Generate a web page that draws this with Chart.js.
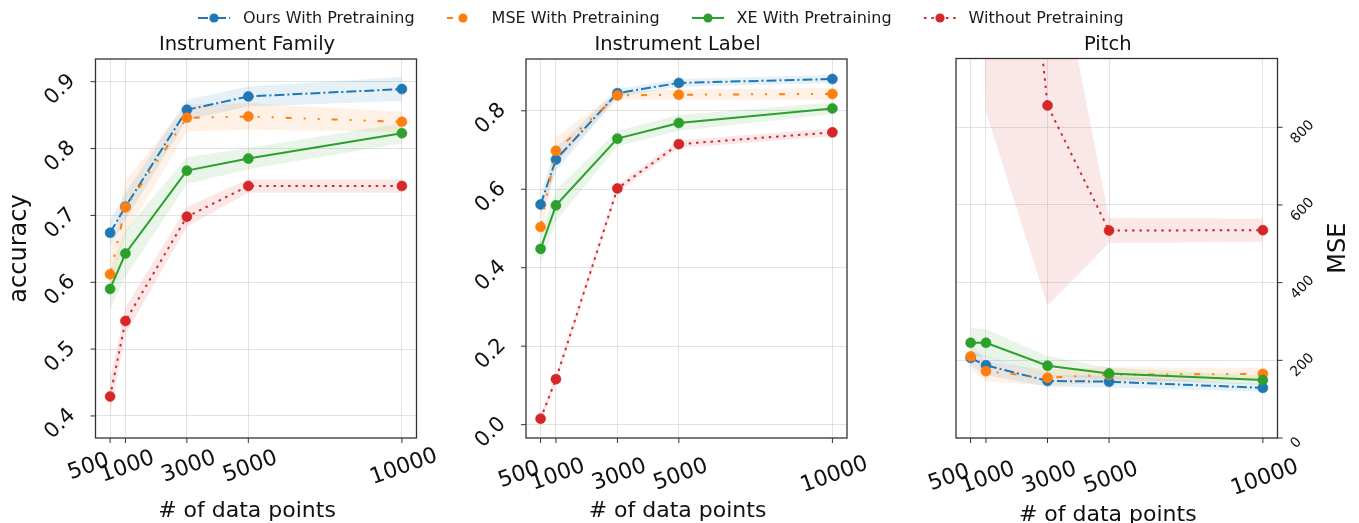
<!DOCTYPE html>
<html>
<head>
<meta charset="utf-8">
<script src="https://cdn.jsdelivr.net/npm/chart.js@4.4.0/dist/chart.umd.min.js"></script>
<style>
  body { margin: 0; background: #fff; width: 1359px; height: 523px; overflow: hidden; position: relative; font-family: "DejaVu Sans", sans-serif; }
  canvas { position: absolute; left: 0; top: 0; }
  #legend { position: absolute; left: 198px; top: 8px; display: flex; gap: 32px; font-size: 16px; line-height: 20px; color: #1a1a1a; z-index: 5; }
  .item { display: flex; align-items: center; gap: 13px; white-space: nowrap; }
  .item svg { display: block; }
</style>
</head>
<body>
<div id="legend"></div>
<canvas id="family" width="1359" height="523"></canvas>
<canvas id="label" width="1359" height="523"></canvas>
<canvas id="pitch" width="1359" height="523"></canvas>
<script>
// number of training data points (x axis)
const dataPoints = [500, 1000, 3000, 5000, 10000];
const xTickLabels = ['500', '1000', '3000', '5000', '10000'];
const seriesNames = ['Ours With Pretraining', 'MSE With Pretraining', 'XE With Pretraining', 'Without Pretraining'];

// Instrument Family accuracy (mean, std)
const familyOurs = [0.674, 0.713, 0.858, 0.878, 0.889];
const familyMse  = [0.612, 0.712, 0.846, 0.848, 0.840];
const familyXe   = [0.590, 0.643, 0.767, 0.785, 0.823];
const familyNone = [0.429, 0.542, 0.698, 0.744, 0.744];
const familyOursStd = [0.020, 0.020, 0.015, 0.015, 0.018];
const familyMseStd  = [0.030, 0.040, 0.020, 0.020, 0.015];
const familyXeStd   = [0.030, 0.035, 0.020, 0.016, 0.015];
const familyNoneStd = [0.025, 0.020, 0.015, 0.010, 0.010];
const familyYTicks = [0.4, 0.5, 0.6, 0.7, 0.8, 0.9];

// Instrument Label accuracy (mean, std)
const labelOurs = [0.561, 0.676, 0.845, 0.871, 0.881];
const labelMse  = [0.504, 0.698, 0.839, 0.841, 0.843];
const labelXe   = [0.448, 0.559, 0.729, 0.769, 0.806];
const labelNone = [0.015, 0.116, 0.602, 0.715, 0.745];
const labelOursStd = [0.030, 0.030, 0.010, 0.010, 0.010];
const labelMseStd  = [0.030, 0.035, 0.010, 0.013, 0.015];
const labelXeStd   = [0.040, 0.040, 0.020, 0.020, 0.015];
const labelNoneStd = [0.010, 0.010, 0.010, 0.010, 0.010];
const labelYTicks = [0.0, 0.2, 0.4, 0.6, 0.8];

// Pitch MSE (mean, std)
const pitchOurs = [206, 187, 147, 145, 129];
const pitchMse  = [210, 172, 155, 163, 165];
const pitchXe   = [245, 245, 186, 166, 149];
const pitchNone = [4000, 2400, 856, 534, 535];
const pitchOursStd = [20, 25, 15, 15, 10];
const pitchMseStd  = [35, 25, 20, 20, 15];
const pitchXeStd   = [38, 35, 25, 15, 12];
const pitchNoneStd = [1000, 1560, 515, 32, 30];
const pitchYTicks = [0, 200, 400, 600, 800];

const colors = ['#1f77b4', '#ff7f0e', '#2ca02c', '#d62728'];
const bands = ['rgba(31,119,180,0.11)', 'rgba(255,127,14,0.11)', 'rgba(44,160,44,0.11)', 'rgba(214,39,40,0.11)'];
const dashes = [[10, 3, 2, 3], [6, 12, 2, 12, 2, 12], [], [2.5, 4.8]];

const FONT = '"DejaVu Sans", sans-serif';

function rotText(ctx, text, cx, cy, ang) {
  ctx.save();
  ctx.translate(cx, cy);
  ctx.rotate(ang);
  ctx.textAlign = 'center';
  ctx.textBaseline = 'middle';
  ctx.fillText(text, 0, 0);
  ctx.restore();
}

const deco = {
  id: 'deco',
  afterDraw(chart, args, o) {
    const { ctx, chartArea: a } = chart;
    const xs = chart.scales.x, ys = chart.scales.y;
    ctx.save();
    // frame
    ctx.strokeStyle = '#333';
    ctx.lineWidth = 1.3;
    ctx.strokeRect(a.left, a.top, a.right - a.left, a.bottom - a.top);
    // tick marks
    ctx.lineWidth = 1;
    ctx.beginPath();
    xs.ticks.forEach(t => {
      const px = xs.getPixelForValue(t.value);
      ctx.moveTo(px, a.bottom); ctx.lineTo(px, a.bottom + 5);
    });
    ys.ticks.forEach(t => {
      const py = ys.getPixelForValue(t.value);
      if (o.yRight) { ctx.moveTo(a.right, py); ctx.lineTo(a.right + 5, py); }
      else { ctx.moveTo(a.left, py); ctx.lineTo(a.left - 5, py); }
    });
    ctx.stroke();

    ctx.fillStyle = '#111';
    // x tick labels, rotated 20 degrees
    const r20 = 20 * Math.PI / 180;
    const xfs = 22;
    ctx.font = xfs + 'px ' + FONT;
    xs.ticks.forEach((t, i) => {
      const txt = xTickLabels[i];
      const px = xs.getPixelForValue(t.value);
      const w = ctx.measureText(txt).width;
      const bw = w * Math.cos(r20) + 0.73 * xfs * Math.sin(r20);
      const cx = i === 0 ? px - bw / 2 + 1 : px + 2;
      rotText(ctx, txt, cx, o.xLabelY, -r20);
    });
    // y tick labels, rotated 45 degrees
    const r45 = Math.PI / 4;
    const fs = o.yRight ? 14 : 21;
    ctx.font = fs + 'px ' + FONT;
    ys.ticks.forEach(t => {
      const txt = o.yFmt(t.value);
      const py = ys.getPixelForValue(t.value);
      const w = ctx.measureText(txt).width;
      const bw = (w + 0.73 * fs) * Math.cos(r45);
      if (o.yRight) rotText(ctx, txt, a.right + 12 + bw / 2, py + 5, -r45);
      else rotText(ctx, txt, a.left - 18 - bw / 2, py + 8, -r45);
    });
    // titles
    const mid = (a.left + a.right) / 2 - 9;
    ctx.textAlign = 'center';
    ctx.textBaseline = 'alphabetic';
    ctx.font = '19.5px ' + FONT;
    ctx.fillText(o.title, mid, 50);
    ctx.font = '22px ' + FONT;
    ctx.fillText('# of data points', mid, o.xTitleY);
    if (o.yTitle) {
      ctx.font = '24px ' + FONT;
      rotText(ctx, o.yTitle, o.yTitleX, (a.top + a.bottom) / 2, -Math.PI / 2);
    }
    ctx.restore();
  }
};

function makePanel(id, area, series, stds, yMin, yMax, yTicks, deco_opts) {
  const datasets = [];
  series.forEach((mean, i) => {
    const std = stds[i];
    datasets.push({
      data: mean.map((v, k) => ({ x: dataPoints[k], y: v - std[k] })),
      borderWidth: 0, pointRadius: 0, fill: false, order: 10 + i
    });
    datasets.push({
      data: mean.map((v, k) => ({ x: dataPoints[k], y: v + std[k] })),
      borderWidth: 0, pointRadius: 0, fill: '-1', backgroundColor: bands[i], order: 10 + i
    });
    datasets.push({
      label: seriesNames[i],
      data: mean.map((v, k) => ({ x: dataPoints[k], y: v })),
      borderColor: colors[i], backgroundColor: colors[i],
      borderWidth: 2, borderDash: dashes[i], borderCapStyle: 'butt',
      pointRadius: 5, pointBorderWidth: 0.6, pointBorderColor: colors[i], pointBackgroundColor: colors[i],
      tension: 0, fill: false, order: 4 - i
    });
  });

  return new Chart(document.getElementById(id), {
    type: 'line',
    data: { datasets },
    options: {
      responsive: false,
      animation: false,
      devicePixelRatio: 1,
      events: [],
      layout: { padding: { left: area[0], right: 1359 - area[1], top: area[2], bottom: 523 - area[3] } },
      plugins: { legend: { display: false }, tooltip: { enabled: false }, deco: deco_opts },
      scales: {
        x: {
          type: 'linear', min: 25, max: 10475,
          afterBuildTicks: ax => { ax.ticks = dataPoints.map(v => ({ value: v })); },
          ticks: { display: false },
          grid: { color: 'rgba(0,0,0,0.11)', lineWidth: 1, drawTicks: false },
          border: { display: false }
        },
        y: {
          type: 'linear', min: yMin, max: yMax,
          position: deco_opts.yRight ? 'right' : 'left',
          afterBuildTicks: ax => { ax.ticks = yTicks.map(v => ({ value: v })); },
          ticks: { display: false },
          grid: { color: 'rgba(0,0,0,0.11)', lineWidth: 1, drawTicks: false },
          border: { display: false }
        }
      }
    },
    plugins: [deco]
  });
}

makePanel('family', [95.5, 416.5, 59, 438],
  [familyOurs, familyMse, familyXe, familyNone],
  [familyOursStd, familyMseStd, familyXeStd, familyNoneStd],
  0.367, 0.934, familyYTicks,
  { title: 'Instrument Family', yTitle: 'accuracy', yTitleX: 20, xLabelY: 467, xTitleY: 517, yFmt: v => v.toFixed(1) });

makePanel('label', [526, 847, 59, 438],
  [labelOurs, labelMse, labelXe, labelNone],
  [labelOursStd, labelMseStd, labelXeStd, labelNoneStd],
  -0.034, 0.932, labelYTicks,
  { title: 'Instrument Label', xLabelY: 475, xTitleY: 517, yFmt: v => v.toFixed(1) });

makePanel('pitch', [956, 1277.5, 58.5, 438],
  [pitchOurs, pitchMse, pitchXe, pitchNone],
  [pitchOursStd, pitchMseStd, pitchXeStd, pitchNoneStd],
  0, 977, pitchYTicks,
  { title: 'Pitch', yTitle: 'MSE', yTitleX: 1338.5, yRight: true, xLabelY: 478, xTitleY: 521, yFmt: v => String(v) });

// legend across the top
const legend = document.getElementById('legend');
seriesNames.forEach((name, i) => {
  const item = document.createElement('div');
  item.className = 'item';
  const dash = dashes[i].length ? ' stroke-dasharray="' + dashes[i].join(',') + '"' : '';
  item.innerHTML = '<svg width="32" height="14"><line x1="0" y1="7" x2="32" y2="7" stroke="' + colors[i] +
    '" stroke-width="2"' + dash + '/><circle cx="16" cy="7" r="4.6" fill="' + colors[i] + '"/></svg><span>' + name + '</span>';
  legend.appendChild(item);
});
</script>
</body>
</html>
